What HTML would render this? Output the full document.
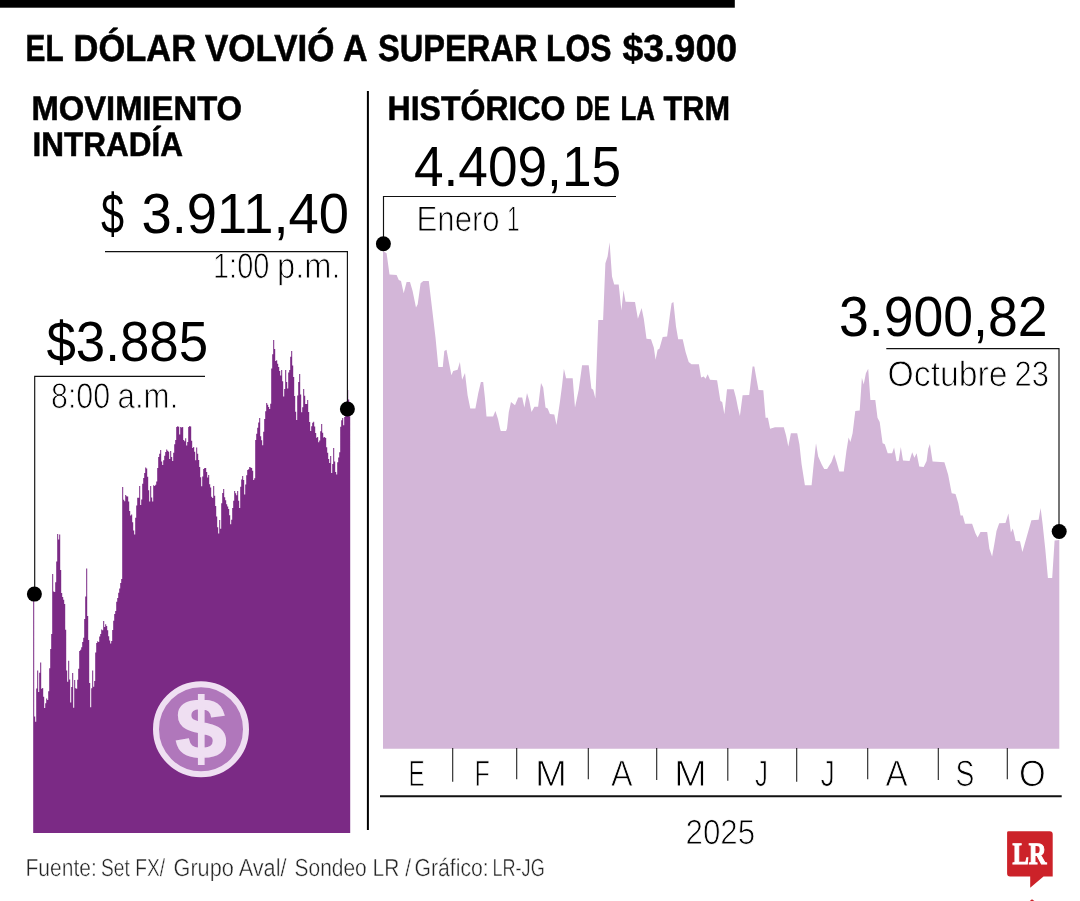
<!DOCTYPE html>
<html lang="es"><head><meta charset="utf-8"><title>El dólar volvió a superar los $3.900</title>
<style>html,body{margin:0;padding:0;background:#fff}svg{display:block}</style></head><body>
<svg width="1080" height="901" viewBox="0 0 1080 901">
<rect width="1080" height="901" fill="#fff"/>
<rect x="0" y="0" width="734.8" height="7.7" fill="#000"/>
<polygon fill="#7b2a85" points="33.2,833.0 33.2,593.6 34.2,593.6 34.2,716.6 35.2,716.6 35.2,721.7 36.2,721.7 36.2,688.6 37.2,688.6 37.2,670.6 38.2,670.6 38.2,692.1 39.2,692.1 39.2,672.7 40.2,672.7 40.2,662.6 41.2,662.6 41.2,688.8 42.2,688.8 42.2,687.9 43.2,687.9 43.2,696.7 44.2,696.7 44.2,708.1 45.2,708.1 45.2,703.2 46.2,703.2 46.2,698.5 47.2,698.5 47.2,700.1 48.2,700.1 48.2,691.3 49.2,691.3 49.2,668.2 50.2,668.2 50.2,648.9 51.2,648.9 51.2,634.1 52.2,634.1 52.2,574.0 53.2,574.0 53.2,591.4 54.2,591.4 54.2,592.1 55.2,592.1 55.2,582.3 56.2,582.3 56.2,561.5 57.2,561.5 57.2,534.0 58.2,534.0 58.2,539.6 59.2,539.6 59.2,534.6 60.2,534.6 60.2,570.0 61.2,570.0 61.2,592.9 62.2,592.9 62.2,596.9 63.2,596.9 63.2,599.8 64.2,599.8 64.2,603.9 65.2,603.9 65.2,629.7 66.2,629.7 66.2,670.6 67.2,670.6 67.2,681.8 68.2,681.8 68.2,660.7 69.2,660.7 69.2,679.4 70.2,679.4 70.2,702.5 71.2,702.5 71.2,686.9 72.2,686.9 72.2,673.0 73.2,673.0 73.2,707.8 74.2,707.8 74.2,680.0 75.2,680.0 75.2,688.2 76.2,688.2 76.2,688.8 77.2,688.8 77.2,679.8 78.2,679.8 78.2,668.7 79.2,668.7 79.2,651.1 80.2,651.1 80.2,649.7 81.2,649.7 81.2,647.3 82.2,647.3 82.2,642.1 83.2,642.1 83.2,637.7 84.2,637.7 84.2,619.1 85.2,619.1 85.2,596.5 86.2,596.5 86.2,568.5 87.2,568.5 87.2,616.1 88.2,616.1 88.2,639.9 89.2,639.9 89.2,683.0 90.2,683.0 90.2,707.2 91.2,707.2 91.2,688.3 92.2,688.3 92.2,670.6 93.2,670.6 93.2,686.8 94.2,686.8 94.2,681.1 95.2,681.1 95.2,652.4 96.2,652.4 96.2,643.1 97.2,643.1 97.2,641.3 98.2,641.3 98.2,642.1 99.2,642.1 99.2,636.5 100.2,636.5 100.2,634.1 101.2,634.1 101.2,629.6 102.2,629.6 102.2,630.2 103.2,630.2 103.2,621.0 104.2,621.0 104.2,627.1 105.2,627.1 105.2,624.3 106.2,624.3 106.2,626.0 107.2,626.0 107.2,630.2 108.2,630.2 108.2,636.2 109.2,636.2 109.2,640.5 110.2,640.5 110.2,643.6 111.2,643.6 111.2,640.9 112.2,640.9 112.2,630.0 113.2,630.0 113.2,620.8 114.2,620.8 114.2,614.1 115.2,614.1 115.2,611.0 116.2,611.0 116.2,601.7 117.2,601.7 117.2,598.1 118.2,598.1 118.2,592.7 119.2,592.7 119.2,588.4 120.2,588.4 120.2,582.9 121.2,582.9 121.2,579.0 122.2,579.0 122.2,487.0 123.2,487.0 123.2,499.7 124.2,499.7 124.2,501.2 125.2,501.2 125.2,495.0 126.2,495.0 126.2,496.3 127.2,496.3 127.2,496.5 128.2,496.5 128.2,501.5 129.2,501.5 129.2,510.9 130.2,510.9 130.2,515.5 131.2,515.5 131.2,514.6 132.2,514.6 132.2,522.2 133.2,522.2 133.2,530.4 134.2,530.4 134.2,534.5 135.2,534.5 135.2,517.7 136.2,517.7 136.2,505.5 137.2,505.5 137.2,497.7 138.2,497.7 138.2,497.7 139.2,497.7 139.2,486.0 140.2,486.0 140.2,505.1 141.2,505.1 141.2,499.4 142.2,499.4 142.2,483.7 143.2,483.7 143.2,478.1 144.2,478.1 144.2,473.0 145.2,473.0 145.2,467.4 146.2,467.4 146.2,468.6 147.2,468.6 147.2,476.7 148.2,476.7 148.2,490.3 149.2,490.3 149.2,501.6 150.2,501.6 150.2,486.0 151.2,486.0 151.2,497.4 152.2,497.4 152.2,501.6 153.2,501.6 153.2,485.2 154.2,485.2 154.2,486.1 155.2,486.1 155.2,484.8 156.2,484.8 156.2,481.5 157.2,481.5 157.2,468.1 158.2,468.1 158.2,457.0 159.2,457.0 159.2,453.8 160.2,453.8 160.2,450.0 161.2,450.0 161.2,461.4 162.2,461.4 162.2,464.9 163.2,464.9 163.2,460.2 164.2,460.2 164.2,455.8 165.2,455.8 165.2,452.1 166.2,452.1 166.2,449.6 167.2,449.6 167.2,450.7 168.2,450.7 168.2,451.7 169.2,451.7 169.2,458.9 170.2,458.9 170.2,451.0 171.2,451.0 171.2,457.0 172.2,457.0 172.2,461.0 173.2,461.0 173.2,452.7 174.2,452.7 174.2,444.3 175.2,444.3 175.2,440.0 176.2,440.0 176.2,427.0 177.2,427.0 177.2,426.3 178.2,426.3 178.2,426.8 179.2,426.8 179.2,434.5 180.2,434.5 180.2,427.0 181.2,427.0 181.2,427.4 182.2,427.4 182.2,427.1 183.2,427.1 183.2,440.0 184.2,440.0 184.2,441.2 185.2,441.2 185.2,438.2 186.2,438.2 186.2,445.4 187.2,445.4 187.2,442.0 188.2,442.0 188.2,427.0 189.2,427.0 189.2,425.9 190.2,425.9 190.2,426.4 191.2,426.4 191.2,440.8 192.2,440.8 192.2,448.1 193.2,448.1 193.2,447.0 194.2,447.0 194.2,451.7 195.2,451.7 195.2,460.2 196.2,460.2 196.2,447.4 197.2,447.4 197.2,453.7 198.2,453.7 198.2,459.9 199.2,459.9 199.2,466.9 200.2,466.9 200.2,477.3 201.2,477.3 201.2,486.2 202.2,486.2 202.2,476.5 203.2,476.5 203.2,469.0 204.2,469.0 204.2,468.1 205.2,468.1 205.2,467.9 206.2,467.9 206.2,472.0 207.2,472.0 207.2,477.5 208.2,477.5 208.2,475.0 209.2,475.0 209.2,484.3 210.2,484.3 210.2,487.6 211.2,487.6 211.2,496.7 212.2,496.7 212.2,497.9 213.2,497.9 213.2,486.0 214.2,486.0 214.2,495.7 215.2,495.7 215.2,505.9 216.2,505.9 216.2,516.6 217.2,516.6 217.2,527.3 218.2,527.3 218.2,533.4 219.2,533.4 219.2,520.0 220.2,520.0 220.2,528.8 221.2,528.8 221.2,503.3 222.2,503.3 222.2,492.9 223.2,492.9 223.2,489.0 224.2,489.0 224.2,497.2 225.2,497.2 225.2,500.3 226.2,500.3 226.2,504.3 227.2,504.3 227.2,506.6 228.2,506.6 228.2,509.0 229.2,509.0 229.2,515.3 230.2,515.3 230.2,524.2 231.2,524.2 231.2,519.8 232.2,519.8 232.2,508.1 233.2,508.1 233.2,500.7 234.2,500.7 234.2,491.0 235.2,491.0 235.2,493.3 236.2,493.3 236.2,495.3 237.2,495.3 237.2,491.0 238.2,491.0 238.2,500.8 239.2,500.8 239.2,507.9 240.2,507.9 240.2,486.8 241.2,486.8 241.2,479.5 242.2,479.5 242.2,476.0 243.2,476.0 243.2,480.1 244.2,480.1 244.2,494.6 245.2,494.6 245.2,484.6 246.2,484.6 246.2,475.3 247.2,475.3 247.2,470.0 248.2,470.0 248.2,469.2 249.2,469.2 249.2,467.0 250.2,467.0 250.2,467.4 251.2,467.4 251.2,468.0 252.2,468.0 252.2,470.8 253.2,470.8 253.2,480.1 254.2,480.1 254.2,478.3 255.2,478.3 255.2,439.9 256.2,439.9 256.2,433.8 257.2,433.8 257.2,427.7 258.2,427.7 258.2,422.6 259.2,422.6 259.2,418.0 260.2,418.0 260.2,436.2 261.2,436.2 261.2,440.3 262.2,440.3 262.2,445.3 263.2,445.3 263.2,431.7 264.2,431.7 264.2,419.1 265.2,419.1 265.2,411.3 266.2,411.3 266.2,403.0 267.2,403.0 267.2,404.7 268.2,404.7 268.2,406.9 269.2,406.9 269.2,409.0 270.2,409.0 270.2,403.8 271.2,403.8 271.2,368.4 272.2,368.4 272.2,354.3 273.2,354.3 273.2,340.0 274.2,340.0 274.2,348.9 275.2,348.9 275.2,361.0 276.2,361.0 276.2,360.2 277.2,360.2 277.2,363.7 278.2,363.7 278.2,367.0 279.2,367.0 279.2,370.9 280.2,370.9 280.2,375.4 281.2,375.4 281.2,370.0 282.2,370.0 282.2,381.3 283.2,381.3 283.2,396.4 284.2,396.4 284.2,388.9 285.2,388.9 285.2,370.0 286.2,370.0 286.2,382.0 287.2,382.0 287.2,388.6 288.2,388.6 288.2,372.5 289.2,372.5 289.2,369.9 290.2,369.9 290.2,356.8 291.2,356.8 291.2,351.0 292.2,351.0 292.2,365.6 293.2,365.6 293.2,376.9 294.2,376.9 294.2,395.9 295.2,395.9 295.2,411.7 296.2,411.7 296.2,420.1 297.2,420.1 297.2,395.6 298.2,395.6 298.2,382.0 299.2,382.0 299.2,374.0 300.2,374.0 300.2,394.4 301.2,394.4 301.2,412.3 302.2,412.3 302.2,407.3 303.2,407.3 303.2,389.0 304.2,389.0 304.2,395.8 305.2,395.8 305.2,404.1 306.2,404.1 306.2,403.9 307.2,403.9 307.2,400.0 308.2,400.0 308.2,411.9 309.2,411.9 309.2,422.1 310.2,422.1 310.2,431.1 311.2,431.1 311.2,426.3 312.2,426.3 312.2,422.7 313.2,422.7 313.2,421.8 314.2,421.8 314.2,426.6 315.2,426.6 315.2,433.1 316.2,433.1 316.2,437.7 317.2,437.7 317.2,437.0 318.2,437.0 318.2,442.2 319.2,442.2 319.2,440.4 320.2,440.4 320.2,431.2 321.2,431.2 321.2,423.9 322.2,423.9 322.2,432.8 323.2,432.8 323.2,437.4 324.2,437.4 324.2,436.9 325.2,436.9 325.2,437.9 326.2,437.9 326.2,447.3 327.2,447.3 327.2,452.7 328.2,452.7 328.2,459.0 329.2,459.0 329.2,462.9 330.2,462.9 330.2,456.0 331.2,456.0 331.2,473.0 332.2,473.0 332.2,464.1 333.2,464.1 333.2,448.0 334.2,448.0 334.2,461.5 335.2,461.5 335.2,471.9 336.2,471.9 336.2,474.5 337.2,474.5 337.2,462.3 338.2,462.3 338.2,457.4 339.2,457.4 339.2,452.3 340.2,452.3 340.2,426.8 341.2,426.8 341.2,420.2 342.2,420.2 342.2,418.0 343.2,418.0 343.2,425.2 344.2,425.2 344.2,417.0 345.2,417.0 345.2,409.3 346.2,409.3 346.2,401.6 347.2,401.6 347.2,390.0 348.2,390.0 348.2,399.4 349.2,399.4 349.2,416.3 350.2,416.3 350.2,833.0"/>
<polygon fill="#d3b6d8" points="383.0,748.8 383.0,251.0 386.6,253.3 389.5,274.4 396.6,275.0 398.8,280.0 401.0,281.0 403.7,293.2 406.6,282.0 410.0,282.0 412.6,291.0 416.0,307.6 417.7,304.3 420.6,283.2 423.3,281.0 428.8,281.0 432.1,308.8 435.5,337.6 438.3,366.9 442.8,366.9 444.3,351.0 446.5,349.8 448.8,362.0 451.4,375.3 453.2,370.9 457.6,369.8 459.9,362.0 462.1,379.8 465.0,373.0 467.6,395.3 470.3,408.6 475.4,408.6 478.3,393.0 480.9,382.0 483.2,382.0 484.9,397.5 486.5,416.4 493.1,416.4 495.4,411.0 498.0,419.0 500.0,428.6 500.8,431.0 506.0,431.0 507.0,428.6 508.8,412.0 511.0,402.0 515.0,405.3 518.2,397.5 522.2,397.5 524.4,407.5 527.0,393.0 529.3,400.8 531.5,412.0 534.4,406.8 538.1,406.8 541.0,383.0 543.2,387.5 545.5,407.5 547.7,408.6 549.9,414.0 554.3,414.6 556.5,425.0 559.9,402.0 562.1,385.3 563.9,368.7 566.1,378.2 572.7,378.2 575.0,407.5 578.7,389.7 582.1,365.3 588.7,365.3 591.4,388.6 593.2,389.7 595.4,398.6 598.3,319.9 603.1,319.9 605.4,263.3 607.6,256.6 609.6,242.2 612.0,276.6 614.2,284.4 618.7,284.4 621.4,310.5 623.5,290.0 625.5,301.7 635.0,302.0 637.9,318.8 641.6,308.0 643.8,318.8 646.5,338.8 651.0,339.2 653.8,347.6 655.6,359.8 657.6,349.8 659.4,348.7 662.7,337.0 667.1,336.5 670.0,314.3 671.6,303.3 673.4,302.0 676.0,326.5 678.2,339.2 682.7,339.2 685.6,352.0 688.7,362.0 691.5,364.3 698.9,364.3 701.1,377.6 703.8,376.5 705.5,378.7 707.7,374.3 710.0,379.8 717.1,380.2 720.4,400.9 722.2,402.0 724.4,414.2 727.0,389.3 733.7,389.3 735.9,397.5 738.1,408.6 739.9,416.0 742.6,395.3 749.2,394.9 752.6,366.5 754.3,366.5 756.5,379.0 758.5,390.0 763.3,390.3 765.6,417.7 767.9,417.7 770.1,428.8 775.0,427.2 783.8,427.2 786.1,435.4 788.3,446.5 790.9,433.2 797.2,433.2 799.4,444.3 801.6,464.3 804.9,485.3 811.6,485.3 813.8,463.1 816.0,443.2 818.2,456.5 821.6,464.3 824.2,469.1 827.1,469.1 831.5,462.0 834.2,454.3 836.6,462.0 839.3,471.4 843.8,471.4 846.4,451.0 848.6,437.6 850.4,442.0 852.6,433.2 855.3,411.0 859.7,410.6 861.9,377.7 863.7,384.4 865.9,373.3 868.2,368.8 870.4,399.9 875.3,399.9 877.5,417.7 879.7,422.0 882.6,443.2 884.8,444.3 887.7,453.2 892.1,453.2 894.1,447.6 896.6,461.3 898.6,461.0 900.8,447.0 903.0,460.5 909.5,461.0 912.2,452.2 914.4,457.7 916.6,453.3 919.3,466.6 923.7,467.0 926.6,461.0 928.2,448.8 929.9,444.0 932.6,461.5 944.4,462.2 948.1,474.4 951.7,493.2 955.5,493.9 958.3,503.2 960.6,515.4 962.8,515.4 965.0,523.8 972.1,523.8 975.4,533.2 977.6,537.6 980.5,532.0 987.2,532.0 989.4,548.7 992.1,556.5 994.3,544.3 996.5,530.9 999.2,523.2 1005.5,523.0 1008.4,513.6 1010.9,532.5 1012.8,528.6 1015.7,541.0 1020.0,541.2 1022.4,552.0 1026.6,537.3 1031.4,520.2 1038.6,519.8 1040.6,508.0 1042.6,524.0 1045.3,549.2 1047.9,577.9 1052.2,577.9 1054.6,540.6 1059.3,540.0 1059.3,748.8"/>
<line x1="367.9" y1="90.9" x2="367.9" y2="830" stroke="#000" stroke-width="2"/>
<polyline fill="none" stroke="#111" stroke-width="1.15" points="105,251.6 347.4,251.6 347.4,409"/>
<polyline fill="none" stroke="#111" stroke-width="1.15" points="205,376.4 34.7,376.4 34.7,594"/>
<polyline fill="none" stroke="#111" stroke-width="1.15" points="616,196.5 383.5,196.5 383.5,243.6"/>
<polyline fill="none" stroke="#111" stroke-width="1.15" points="886.3,348.6 1059,348.6 1059,531.5"/>
<circle cx="347.4" cy="409" r="7.5" fill="#000"/>
<circle cx="34.4" cy="594.1" r="7.5" fill="#000"/>
<circle cx="383.4" cy="243.7" r="7.5" fill="#000"/>
<circle cx="1059.2" cy="531.5" r="7.5" fill="#000"/>
<line x1="380" y1="796.3" x2="1061.7" y2="796.3" stroke="#111" stroke-width="2"/>
<line x1="452.7" y1="748" x2="452.7" y2="781.7" stroke="#222" stroke-width="1.1"/>
<line x1="516.7" y1="748" x2="516.7" y2="779.3" stroke="#222" stroke-width="1.1"/>
<line x1="588.3" y1="748" x2="588.3" y2="779.3" stroke="#222" stroke-width="1.1"/>
<line x1="656.7" y1="748" x2="656.7" y2="780" stroke="#222" stroke-width="1.1"/>
<line x1="727.8" y1="748" x2="727.8" y2="780.7" stroke="#222" stroke-width="1.1"/>
<line x1="796.7" y1="748" x2="796.7" y2="781.7" stroke="#222" stroke-width="1.1"/>
<line x1="867.7" y1="748" x2="867.7" y2="779.3" stroke="#222" stroke-width="1.1"/>
<line x1="938.3" y1="748" x2="938.3" y2="780" stroke="#222" stroke-width="1.1"/>
<line x1="1007.3" y1="748" x2="1007.3" y2="779.3" stroke="#222" stroke-width="1.1"/>
<circle cx="201" cy="729.3" r="45" fill="#b077bb" stroke="#efdff2" stroke-width="6"/>
<text id="coin" text-rendering="geometricPrecision" transform="translate(201,758) scale(1.08,1)" text-anchor="middle" font-family='"Liberation Sans", sans-serif' font-weight="bold" font-size="85" fill="#efdff2" stroke="#efdff2" stroke-width="1.6" stroke-linejoin="miter">$</text>
<path fill="#cc2229" d="M1008.5,831.2 H1049.7 Q1052.7,831.2 1052.7,834.2 V876.6 H1043.5 L1030.2,887.8 V876.6 H1010.1 Q1007.1,876.6 1007.1,873.6 V832.6 Q1007.1,831.2 1008.5,831.2 Z"/>
<path fill="#cc2229" d="M1029.8,901 L1032,899.3 L1034.4,901 Z"/>
<text id="ti1" x="25.50" y="61.12" font-family='"Liberation Sans", sans-serif' font-size="37.60" font-weight="bold" fill="#000" text-rendering="geometricPrecision" textLength="38.15" lengthAdjust="spacingAndGlyphs" stroke="#000" stroke-width="0.55">EL</text>
<text id="ti2" x="73.50" y="61.12" font-family='"Liberation Sans", sans-serif' font-size="37.60" font-weight="bold" fill="#000" text-rendering="geometricPrecision" textLength="122.55" lengthAdjust="spacingAndGlyphs" stroke="#000" stroke-width="0.55">DÓLAR</text>
<text id="ti3" x="205.00" y="61.12" font-family='"Liberation Sans", sans-serif' font-size="37.60" font-weight="bold" fill="#000" text-rendering="geometricPrecision" textLength="129.51" lengthAdjust="spacingAndGlyphs" stroke="#000" stroke-width="0.55">VOLVIÓ</text>
<text id="ti4" x="343.00" y="61.12" font-family='"Liberation Sans", sans-serif' font-size="37.60" font-weight="bold" fill="#000" text-rendering="geometricPrecision" textLength="24.57" lengthAdjust="spacingAndGlyphs" stroke="#000" stroke-width="0.55">A</text>
<text id="ti5" x="378.00" y="61.12" font-family='"Liberation Sans", sans-serif' font-size="37.60" font-weight="bold" fill="#000" text-rendering="geometricPrecision" textLength="159.51" lengthAdjust="spacingAndGlyphs" stroke="#000" stroke-width="0.55">SUPERAR</text>
<text id="ti6" x="546.00" y="61.12" font-family='"Liberation Sans", sans-serif' font-size="37.60" font-weight="bold" fill="#000" text-rendering="geometricPrecision" textLength="65.59" lengthAdjust="spacingAndGlyphs" stroke="#000" stroke-width="0.55">LOS</text>
<text id="ti7" x="622.50" y="61.12" font-family='"Liberation Sans", sans-serif' font-size="37.60" font-weight="bold" fill="#000" text-rendering="geometricPrecision" textLength="114.54" lengthAdjust="spacingAndGlyphs" stroke="#000" stroke-width="0.55">$3.900</text>
<text id="mov" x="31.50" y="120.02" font-family='"Liberation Sans", sans-serif' font-size="34.11" font-weight="bold" fill="#000" text-rendering="geometricPrecision" textLength="210.54" lengthAdjust="spacingAndGlyphs" stroke="#000" stroke-width="0.55">MOVIMIENTO</text>
<text id="intra" x="32.50" y="155.92" font-family='"Liberation Sans", sans-serif' font-size="34.11" font-weight="bold" fill="#000" text-rendering="geometricPrecision" textLength="150.54" lengthAdjust="spacingAndGlyphs" stroke="#000" stroke-width="0.55">INTRADÍA</text>
<text id="hi1" x="387.50" y="120.12" font-family='"Liberation Sans", sans-serif' font-size="34.11" font-weight="bold" fill="#000" text-rendering="geometricPrecision" textLength="178.06" lengthAdjust="spacingAndGlyphs" stroke="#000" stroke-width="0.55">HISTÓRICO</text>
<text id="hi2" x="575.50" y="120.12" font-family='"Liberation Sans", sans-serif' font-size="34.11" font-weight="bold" fill="#000" text-rendering="geometricPrecision" textLength="34.62" lengthAdjust="spacingAndGlyphs" stroke="#000" stroke-width="0.55">DE</text>
<text id="hi3" x="620.50" y="120.12" font-family='"Liberation Sans", sans-serif' font-size="34.11" font-weight="bold" fill="#000" text-rendering="geometricPrecision" textLength="34.56" lengthAdjust="spacingAndGlyphs" stroke="#000" stroke-width="0.55">LA</text>
<text id="hi4" x="663.50" y="120.12" font-family='"Liberation Sans", sans-serif' font-size="34.11" font-weight="bold" fill="#000" text-rendering="geometricPrecision" textLength="66.53" lengthAdjust="spacingAndGlyphs" stroke="#000" stroke-width="0.55">TRM</text>
<text id="v3911a" x="101.00" y="232.70" font-family='"Liberation Sans", sans-serif' font-size="56.58" font-weight="normal" fill="#000" text-rendering="geometricPrecision" textLength="23.08" lengthAdjust="spacingAndGlyphs">$</text>
<text id="v3911" x="141.50" y="232.70" font-family='"Liberation Sans", sans-serif' font-size="56.58" font-weight="normal" fill="#000" text-rendering="geometricPrecision" textLength="207.57" lengthAdjust="spacingAndGlyphs">3.911,40</text>
<text id="t1pm" x="213.00" y="278.05" font-family='"Liberation Sans", sans-serif' font-size="35.64" font-weight="normal" fill="#000" text-rendering="geometricPrecision" textLength="56.39" lengthAdjust="spacingAndGlyphs" stroke="#fff" stroke-width="0.9">1:00</text>
<text id="t1pmb" x="277.00" y="278.05" font-family='"Liberation Sans", sans-serif' font-size="35.64" font-weight="normal" fill="#000" text-rendering="geometricPrecision" textLength="63.60" lengthAdjust="spacingAndGlyphs" stroke="#fff" stroke-width="0.9">p.m.</text>
<text id="v3885" x="46.50" y="361.20" font-family='"Liberation Sans", sans-serif' font-size="56.58" font-weight="normal" fill="#000" text-rendering="geometricPrecision" textLength="161.55" lengthAdjust="spacingAndGlyphs">$3.885</text>
<text id="t8am" x="51.00" y="408.05" font-family='"Liberation Sans", sans-serif' font-size="35.64" font-weight="normal" fill="#000" text-rendering="geometricPrecision" textLength="59.17" lengthAdjust="spacingAndGlyphs" stroke="#fff" stroke-width="0.9">8:00</text>
<text id="t8amb" x="117.50" y="408.05" font-family='"Liberation Sans", sans-serif' font-size="35.64" font-weight="normal" fill="#000" text-rendering="geometricPrecision" textLength="60.85" lengthAdjust="spacingAndGlyphs" stroke="#fff" stroke-width="0.9">a.m.</text>
<text id="v4409" x="414.00" y="186.30" font-family='"Liberation Sans", sans-serif' font-size="56.58" font-weight="normal" fill="#000" text-rendering="geometricPrecision" textLength="207.05" lengthAdjust="spacingAndGlyphs">4.409,15</text>
<text id="enero" x="416.50" y="230.55" font-family='"Liberation Sans", sans-serif' font-size="35.64" font-weight="normal" fill="#000" text-rendering="geometricPrecision" textLength="83.22" lengthAdjust="spacingAndGlyphs" stroke="#fff" stroke-width="0.9">Enero</text>
<text id="enerob" x="507.00" y="230.55" font-family='"Liberation Sans", sans-serif' font-size="35.64" font-weight="normal" fill="#000" text-rendering="geometricPrecision" textLength="12.58" lengthAdjust="spacingAndGlyphs" stroke="#fff" stroke-width="0.9">1</text>
<text id="v3900" x="839.00" y="335.80" font-family='"Liberation Sans", sans-serif' font-size="56.58" font-weight="normal" fill="#000" text-rendering="geometricPrecision" textLength="208.59" lengthAdjust="spacingAndGlyphs">3.900,82</text>
<text id="oct" x="887.50" y="385.75" font-family='"Liberation Sans", sans-serif' font-size="35.64" font-weight="normal" fill="#000" text-rendering="geometricPrecision" textLength="120.15" lengthAdjust="spacingAndGlyphs" stroke="#fff" stroke-width="0.9">Octubre</text>
<text id="octb" x="1014.50" y="385.75" font-family='"Liberation Sans", sans-serif' font-size="35.64" font-weight="normal" fill="#000" text-rendering="geometricPrecision" textLength="34.48" lengthAdjust="spacingAndGlyphs" stroke="#fff" stroke-width="0.9">23</text>
<text id="mE" x="408.50" y="786.05" font-family='"Liberation Sans", sans-serif' font-size="36.65" font-weight="normal" fill="#000" text-rendering="geometricPrecision" textLength="16.26" lengthAdjust="spacingAndGlyphs" stroke="#fff" stroke-width="0.9">E</text>
<text id="mF" x="474.50" y="786.05" font-family='"Liberation Sans", sans-serif' font-size="36.65" font-weight="normal" fill="#000" text-rendering="geometricPrecision" textLength="15.39" lengthAdjust="spacingAndGlyphs" stroke="#fff" stroke-width="0.9">F</text>
<text id="mM1" x="535.00" y="786.05" font-family='"Liberation Sans", sans-serif' font-size="36.65" font-weight="normal" fill="#000" text-rendering="geometricPrecision" textLength="32.00" lengthAdjust="spacingAndGlyphs" stroke="#fff" stroke-width="0.9">M</text>
<text id="mA1" x="611.00" y="786.05" font-family='"Liberation Sans", sans-serif' font-size="36.65" font-weight="normal" fill="#000" text-rendering="geometricPrecision" textLength="21.69" lengthAdjust="spacingAndGlyphs" stroke="#fff" stroke-width="0.9">A</text>
<text id="mM2" x="674.00" y="786.05" font-family='"Liberation Sans", sans-serif' font-size="36.65" font-weight="normal" fill="#000" text-rendering="geometricPrecision" textLength="32.89" lengthAdjust="spacingAndGlyphs" stroke="#fff" stroke-width="0.9">M</text>
<text id="mJ1" x="755.00" y="786.05" font-family='"Liberation Sans", sans-serif' font-size="36.65" font-weight="normal" fill="#000" text-rendering="geometricPrecision" textLength="12.99" lengthAdjust="spacingAndGlyphs" stroke="#fff" stroke-width="0.9">J</text>
<text id="mJ2" x="820.50" y="786.05" font-family='"Liberation Sans", sans-serif' font-size="36.65" font-weight="normal" fill="#000" text-rendering="geometricPrecision" textLength="14.43" lengthAdjust="spacingAndGlyphs" stroke="#fff" stroke-width="0.9">J</text>
<text id="mA2" x="885.50" y="786.05" font-family='"Liberation Sans", sans-serif' font-size="36.65" font-weight="normal" fill="#000" text-rendering="geometricPrecision" textLength="22.22" lengthAdjust="spacingAndGlyphs" stroke="#fff" stroke-width="0.9">A</text>
<text id="mS" x="955.50" y="786.05" font-family='"Liberation Sans", sans-serif' font-size="36.65" font-weight="normal" fill="#000" text-rendering="geometricPrecision" textLength="18.83" lengthAdjust="spacingAndGlyphs" stroke="#fff" stroke-width="0.9">S</text>
<text id="mO" x="1019.00" y="786.05" font-family='"Liberation Sans", sans-serif' font-size="36.65" font-weight="normal" fill="#000" text-rendering="geometricPrecision" textLength="26.68" lengthAdjust="spacingAndGlyphs" stroke="#fff" stroke-width="0.9">O</text>
<text id="y2025" x="685.50" y="843.65" font-family='"Liberation Sans", sans-serif' font-size="34.91" font-weight="normal" fill="#000" text-rendering="geometricPrecision" textLength="69.74" lengthAdjust="spacingAndGlyphs" stroke="#fff" stroke-width="0.9">2025</text>
<text id="foot1" x="25.50" y="875.83" font-family='"Liberation Sans", sans-serif' font-size="24.65" font-weight="normal" fill="#222" text-rendering="geometricPrecision" textLength="71.27" lengthAdjust="spacingAndGlyphs" stroke="#fff" stroke-width="0.45">Fuente:</text>
<text id="foot2" x="101.00" y="875.83" font-family='"Liberation Sans", sans-serif' font-size="24.65" font-weight="normal" fill="#222" text-rendering="geometricPrecision" textLength="64.05" lengthAdjust="spacingAndGlyphs" stroke="#fff" stroke-width="0.45">Set FX/</text>
<text id="foot3" x="173.50" y="875.83" font-family='"Liberation Sans", sans-serif' font-size="24.65" font-weight="normal" fill="#222" text-rendering="geometricPrecision" textLength="113.05" lengthAdjust="spacingAndGlyphs" stroke="#fff" stroke-width="0.45">Grupo Aval/</text>
<text id="foot4" x="294.50" y="875.83" font-family='"Liberation Sans", sans-serif' font-size="24.65" font-weight="normal" fill="#222" text-rendering="geometricPrecision" textLength="116.55" lengthAdjust="spacingAndGlyphs" stroke="#fff" stroke-width="0.45">Sondeo LR /</text>
<text id="foot5" x="414.50" y="875.83" font-family='"Liberation Sans", sans-serif' font-size="24.65" font-weight="normal" fill="#222" text-rendering="geometricPrecision" textLength="74.26" lengthAdjust="spacingAndGlyphs" stroke="#fff" stroke-width="0.45">Gráfico:</text>
<text id="foot6" x="492.50" y="875.83" font-family='"Liberation Sans", sans-serif' font-size="24.65" font-weight="normal" fill="#222" text-rendering="geometricPrecision" textLength="52.20" lengthAdjust="spacingAndGlyphs" stroke="#fff" stroke-width="0.45">LR-JG</text>
<text id="lr" x="1012.50" y="864.40" font-family='"Liberation Serif", serif' font-size="30.99" font-weight="bold" fill="#fff" text-rendering="geometricPrecision" textLength="34.04" lengthAdjust="spacingAndGlyphs" stroke="#fff" stroke-width="1.1">LR</text>
</svg></body></html>
